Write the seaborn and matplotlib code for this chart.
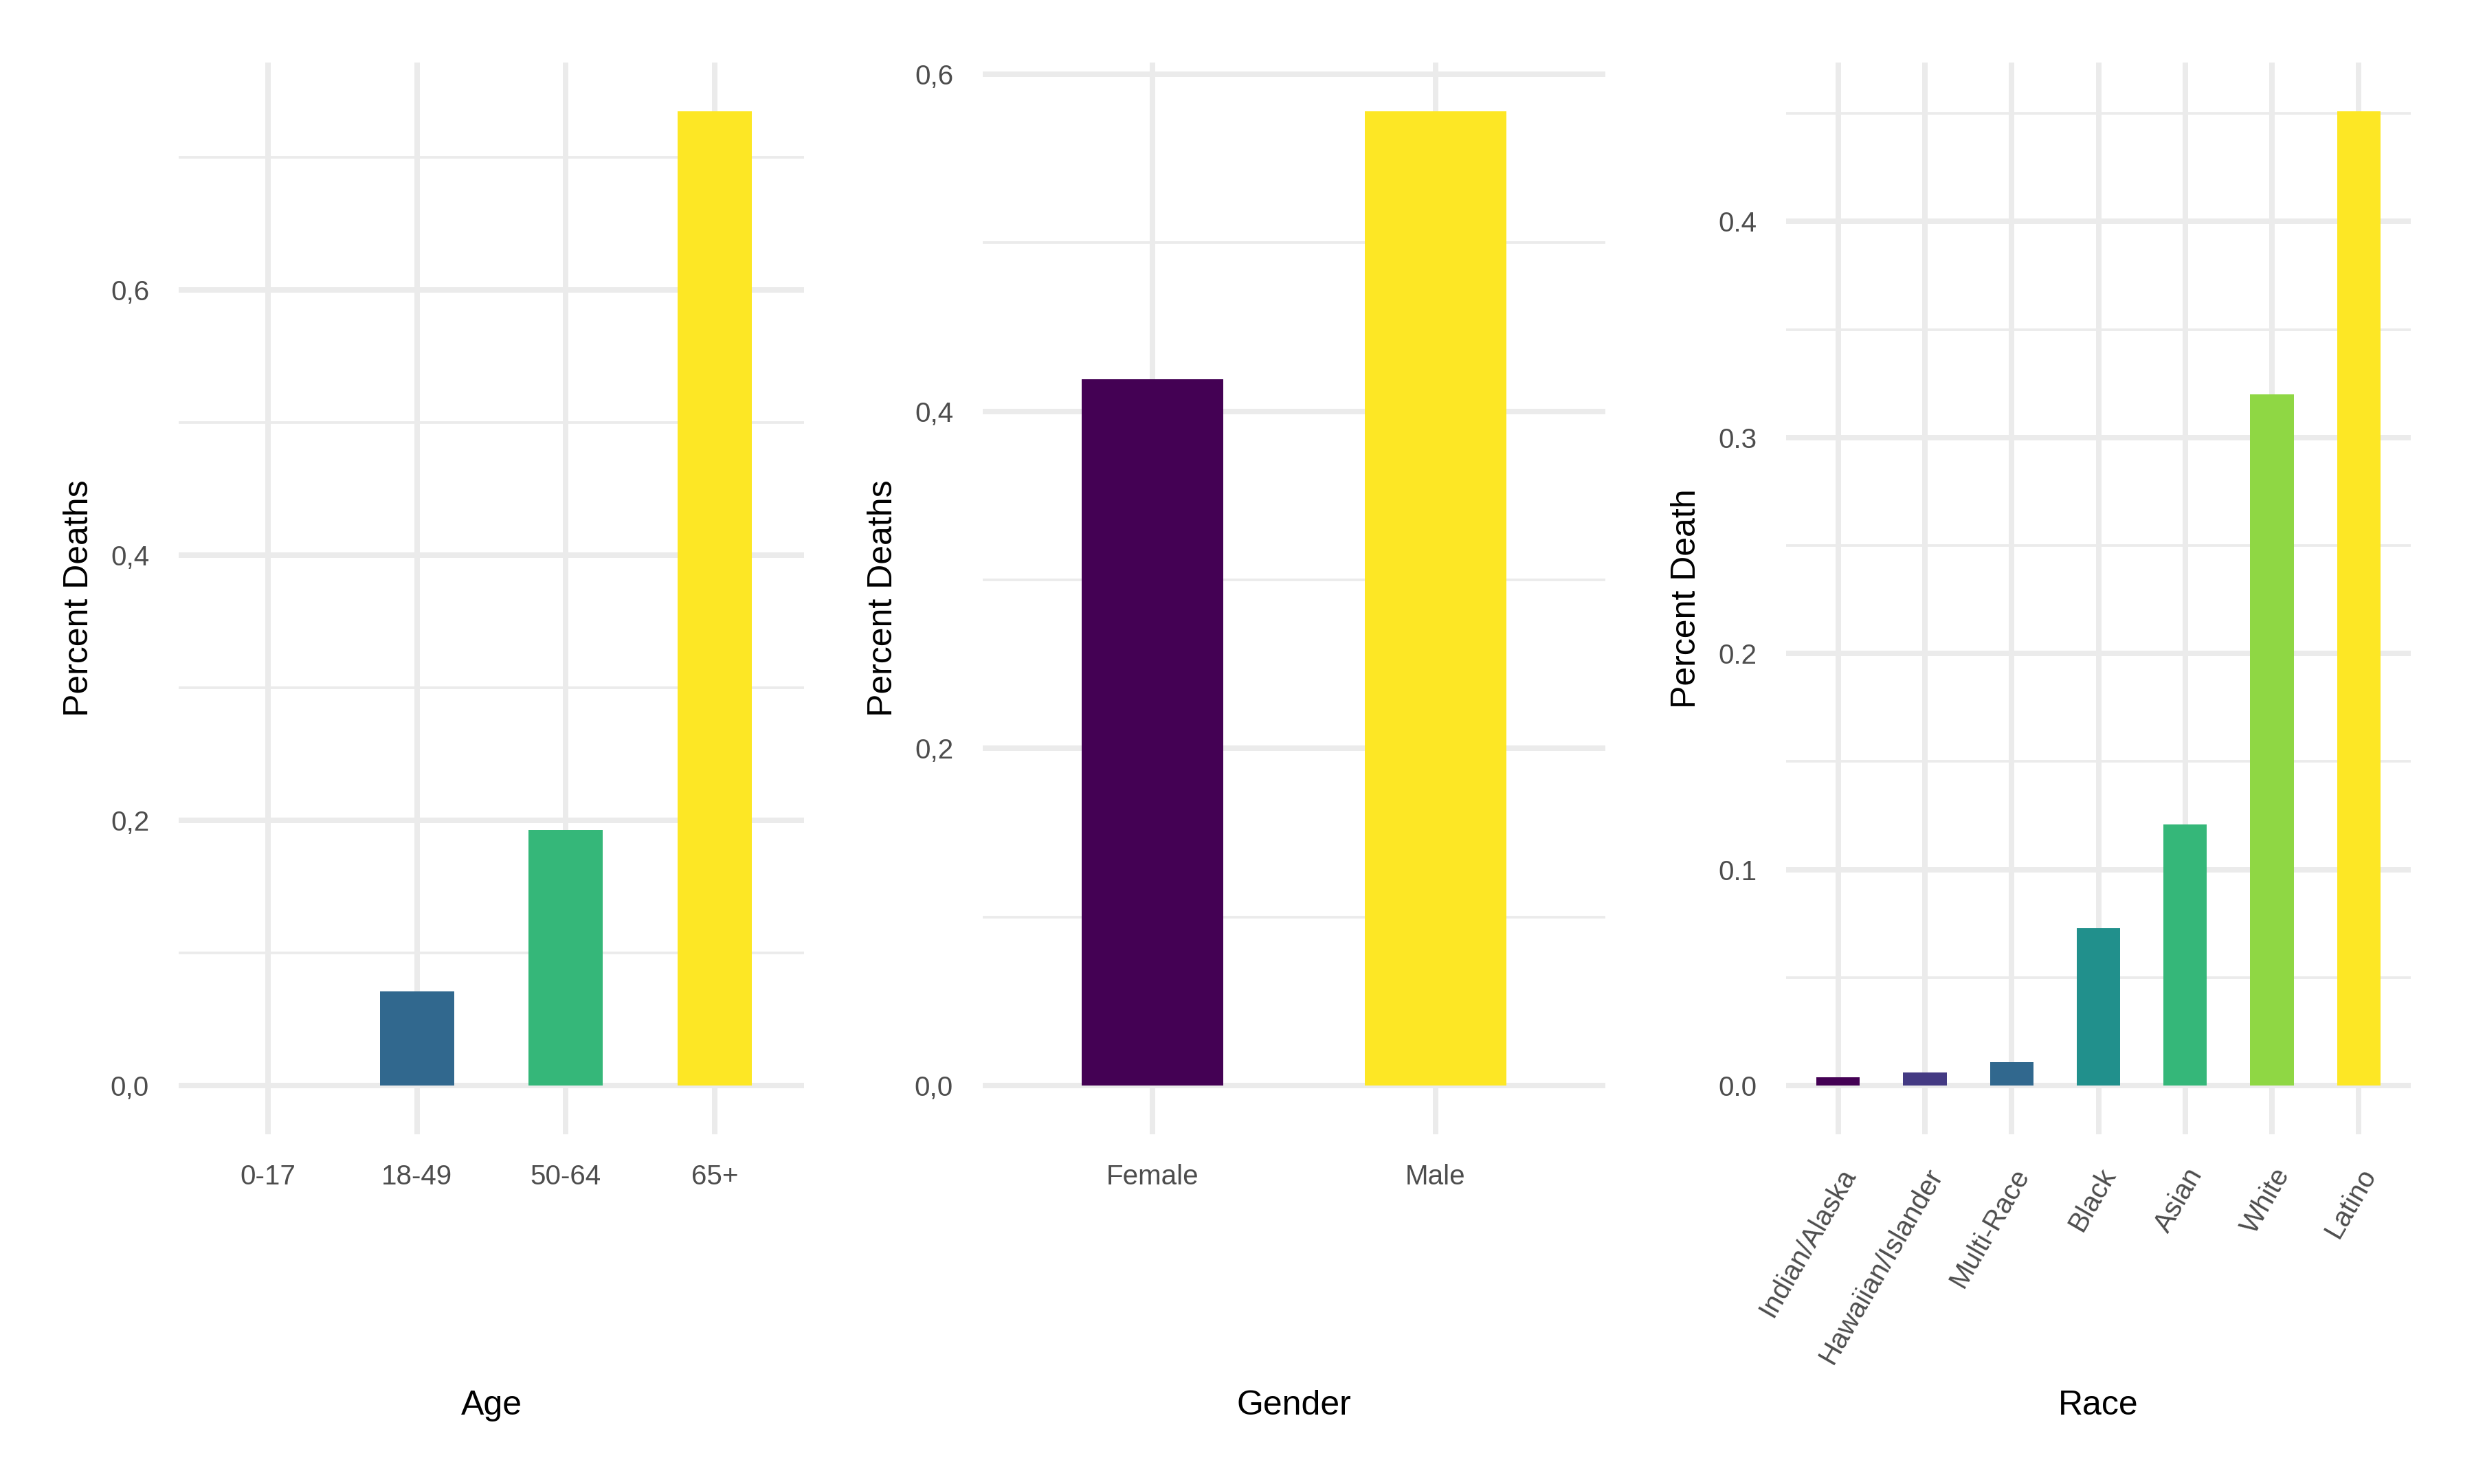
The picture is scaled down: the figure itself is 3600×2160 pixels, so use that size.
import matplotlib
matplotlib.use("Agg")
import matplotlib.pyplot as plt
import seaborn as sns
import pandas as pd
from matplotlib.ticker import MultipleLocator, FuncFormatter

# ---- data ----
age_cats = ["0-17", "18-49", "50-64", "65+"]
age_vals = [0.0, 0.071, 0.193, 0.735]
age_colors = ["#440154", "#31688E", "#35B779", "#FDE725"]

gender_cats = ["Female", "Male"]
gender_vals = [0.419, 0.578]
gender_colors = ["#440154", "#FDE725"]

race_cats = ["Indian/Alaska", "Hawaiian/Islander", "Multi-Race", "Black", "Asian", "White", "Latino"]
race_vals = [0.004, 0.006, 0.011, 0.073, 0.121, 0.320, 0.451]
race_colors = ["#440154", "#443A83", "#31688E", "#21908C", "#35B779", "#8FD744", "#FDE725"]

sns.set_theme(style="white")
plt.rcParams['font.family'] = ['Liberation Sans', 'DejaVu Sans']

fig = plt.figure(figsize=(12, 7.2), dpi=300)

W, H = 3600, 2160
lefts = [260, 1430, 2599]
widths = [910, 906, 909]
top_px, bot_px = 91, 1651
ph = bot_px - top_px

comma = FuncFormatter(lambda v, p: f"{v:.1f}".replace(".", ","))
dot = FuncFormatter(lambda v, p: f"{v:.1f}")

panels = [
    (age_cats, age_vals, age_colors, "Age", "Percent Deaths", comma, 0.2, 0.1, 0),
    (gender_cats, gender_vals, gender_colors, "Gender", "Percent Deaths", comma, 0.2, 0.1, 0),
    (race_cats, race_vals, race_colors, "Race", "Percent Death", dot, 0.1, 0.05, 60),
]

for (cats, vals, cols, xl, yl, fmt, maj, mnr, rot), lp, pw in zip(panels, lefts, widths):
    ax = fig.add_axes([lp / W, 1 - bot_px / H, pw / W, ph / H])
    df = pd.DataFrame({"cat": cats, "val": vals})
    sns.barplot(data=df, x="cat", y="val", hue="cat", order=cats, hue_order=cats,
                palette=cols, width=0.5, saturation=1, legend=False, ax=ax,
                linewidth=0, edgecolor="none", zorder=3)
    m = max(vals)
    ax.set_ylim(-0.05 * m, 1.05 * m)
    n = len(cats)
    ax.set_xlim(-0.6, n - 0.4)
    ax.yaxis.set_major_locator(MultipleLocator(maj))
    ax.yaxis.set_minor_locator(MultipleLocator(mnr))
    ax.yaxis.set_major_formatter(fmt)
    ax.grid(which="major", axis="both", color="#EBEBEB", lw=1.92, zorder=0)
    ax.grid(which="minor", axis="y", color="#EBEBEB", lw=0.9, zorder=0)
    ax.set_axisbelow(True)
    for s in ax.spines.values():
        s.set_visible(False)
    ax.tick_params(axis="both", which="both", length=0, labelsize=9.7, labelcolor="#4D4D4D")
    ax.tick_params(axis="y", pad=10.3)
    ax.tick_params(axis="x", pad=10.3)
    if rot:
        for t in ax.get_xticklabels():
            t.set_rotation(rot)
            t.set_ha("right")
            t.set_va("top")
            t.set_rotation_mode("anchor")
    ax.set_xlabel(xl, fontsize=12, color="black")
    ax.set_ylabel(yl, fontsize=12, color="black")
    ax.xaxis.set_label_coords(0.5, -(2059 - bot_px) / ph)
    ax.xaxis.label.set_va("baseline")
    ax.yaxis.label.set_rotation_mode("anchor")
    ax.yaxis.label.set_va("baseline")
    ax.yaxis.label.set_ha("center")
    ax.yaxis.set_label_coords(-132 / pw, 0.5)

fig.savefig("out.png", dpi=300, facecolor="white")
